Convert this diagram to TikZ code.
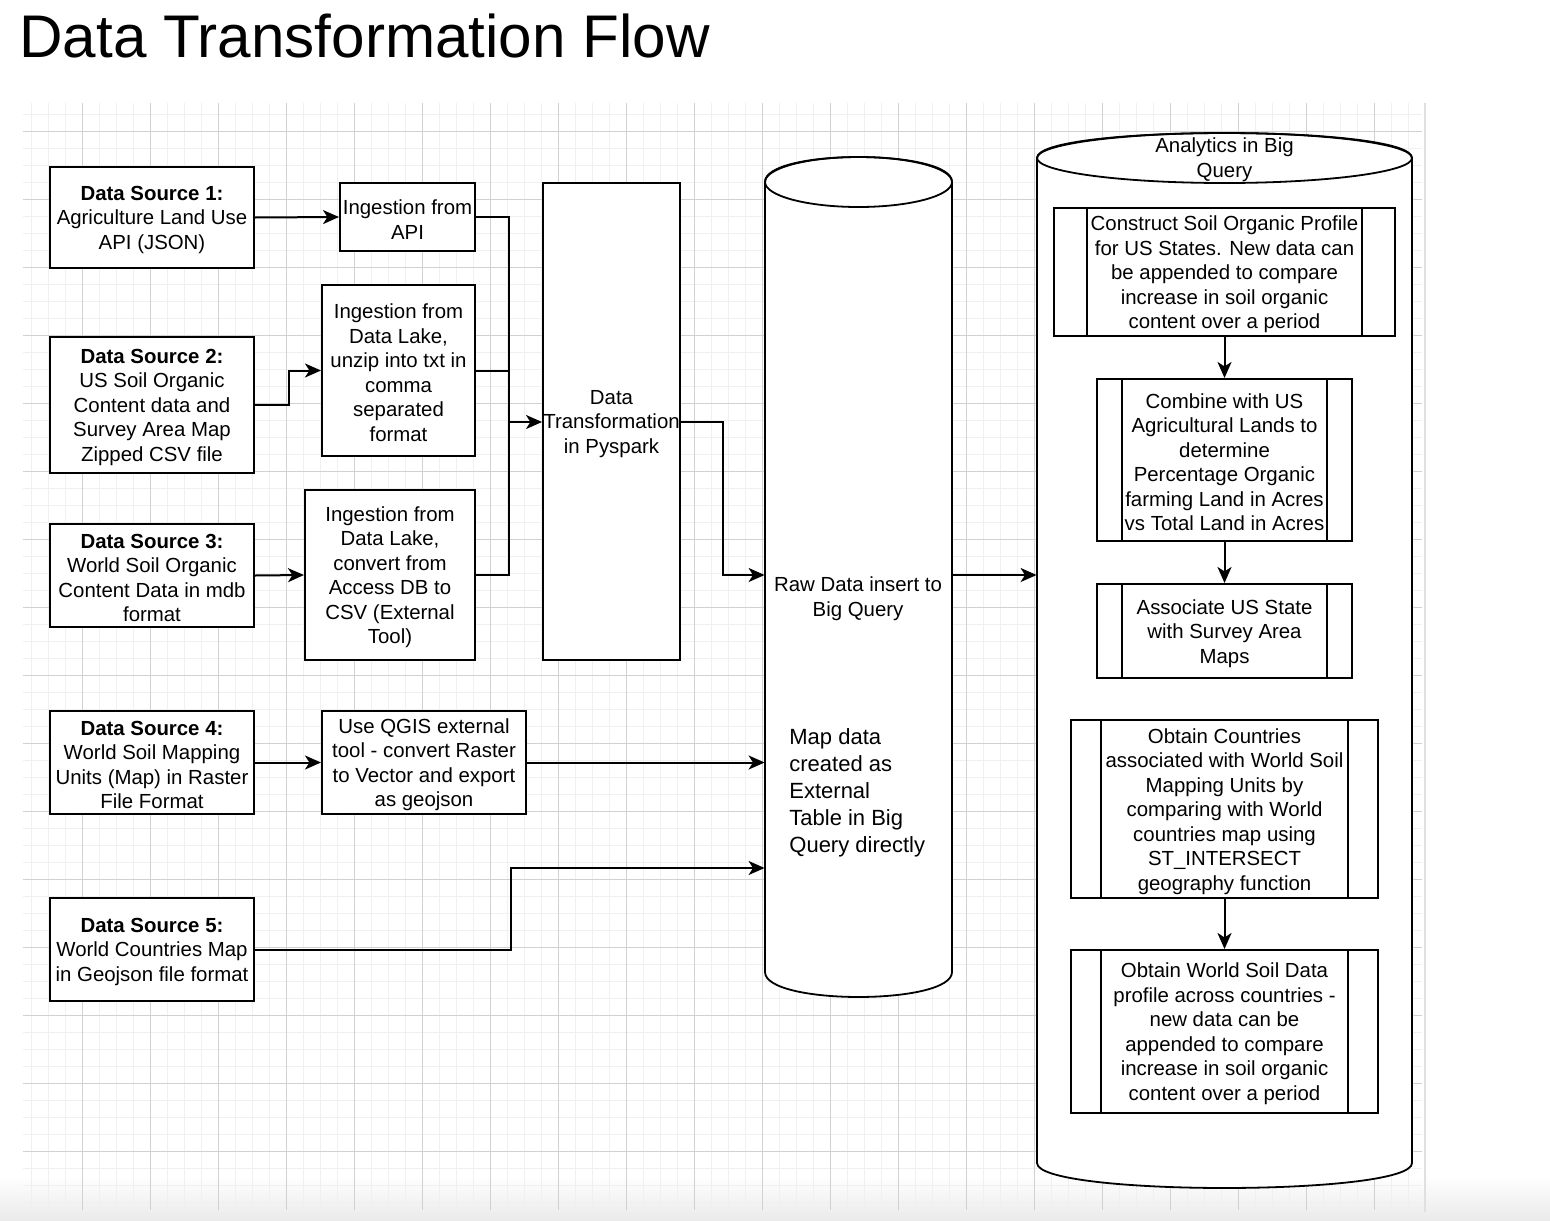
\documentclass[tikz,border=0pt]{standalone}
\usepackage{fontspec}
\setmainfont{Liberation Sans}
\usetikzlibrary{arrows.meta,calc}
\newcommand\myfs{\fontsize{10.2}{12.25}\selectfont}
% box with text shifted slightly down: name, position, width, height, text
\newcommand\bx[5]{%
  \node[box, minimum width=#3, minimum height=#4] (#1) at #2 {};
  \node[txt] (#1t) at ([yshift=-1.2pt]#1.center) {#5};}
\begin{document}
\begin{tikzpicture}[x=0.5pt,y=-0.5pt,
  box/.style={draw=black, line width=1pt, fill=white, inner sep=0pt},
  arr/.style={draw=black, line width=1pt, -{Stealth[length=8pt,width=7pt,inset=2.2pt]}},
  conn/.style={draw=black, line width=1pt},
  cyl/.style={draw=black, line width=0.9pt, fill=white},
  minorgrid/.style={draw=black!6, line width=0.5pt},
  majorgrid/.style={draw=black!18, line width=0.5pt},
  txt/.style={font=\myfs, align=center, inner sep=0pt}]

\useasboundingbox (0,0) rectangle (1550,1220);
\fill[white] (0,0) rectangle (1550,1220);
\shade[top color=white, bottom color=black!8] (0,1175) rectangle (1550,1220);

% grid
\foreach \x in {31,48,...,1422} \draw[minorgrid] (\x,103) -- (\x,1210);
\foreach \y in {114,131,...,1210} \draw[minorgrid] (23,\y) -- (1422,\y);
\foreach \x in {82,150,...,1422} \draw[majorgrid] (\x,103) -- (\x,1210);
\foreach \y in {131,199,...,1210} \draw[majorgrid] (23,\y) -- (1422,\y);
\draw[black!12, line width=1.2pt] (1425,103) -- (1425,1212);

% title
\node[anchor=base west, inner sep=0pt, font=\fontsize{30.1}{34}\selectfont] (title) at (19,58) {Data Transformation Flow};

% sources
\bx{ds1}{(152,217.5)}{102pt}{50.5pt}{\textbf{Data Source 1:}\\Agriculture Land Use\\API (JSON)}
\bx{ds2}{(152,405)}{102pt}{68pt}{\textbf{Data Source 2:}\\US Soil Organic\\Content data and\\Survey Area Map\\Zipped CSV file}
\bx{ds3}{(152,575.5)}{102pt}{51.5pt}{\textbf{Data Source 3:}\\World Soil Organic\\Content Data in mdb\\format}
\bx{ds4}{(152,762.5)}{102pt}{51.5pt}{\textbf{Data Source 4:}\\World Soil Mapping\\Units (Map) in Raster\\File Format}
\bx{ds5}{(152,949.5)}{102pt}{51.5pt}{\textbf{Data Source 5:}\\World Countries Map\\in Geojson file format}

% ingestion
\bx{api}{(407.5,217)}{67.5pt}{34pt}{Ingestion from\\API}
\bx{dl1}{(398.5,370.5)}{76.5pt}{85.5pt}{Ingestion from\\Data Lake,\\unzip into txt in\\comma\\separated\\format}
\bx{dl2}{(390,575)}{85pt}{85pt}{Ingestion from\\Data Lake,\\convert from\\Access DB to\\CSV (External\\Tool)}
\bx{qgis}{(424,762.5)}{102pt}{51.5pt}{Use QGIS external\\tool - convert Raster\\to Vector and export\\as geojson}

% transformation
\bx{dt}{(611.5,421.5)}{68.5pt}{238.5pt}{Data\\Transformation\\in Pyspark}

% cylinder 1
\path[cyl] (765,182) -- (765,972) .. controls (765,1005.3) and (952,1005.3) .. (952,972) -- (952,182) .. controls (952,148.7) and (765,148.7) .. (765,182) -- cycle;
\draw[line width=0.9pt] (858.5,182) ellipse [x radius=46.75pt, y radius=12.5pt];
\node[inner sep=0pt, minimum width=93.5pt, minimum height=395pt] (raw) at (858.5,577) {};
\node[txt] (rawtxt) at (858,598.5) {Raw Data insert to\\Big Query};
\node[font=\fontsize{11}{13.5}\selectfont, align=left, anchor=west, inner sep=0pt] (maptxt) at (789,793) {Map data\\created as\\External\\Table in Big\\Query directly};

% cylinder 2
\path[cyl] (1037,158) -- (1037,1163) .. controls (1037,1196.3) and (1412,1196.3) .. (1412,1163) -- (1412,158) .. controls (1412,124.7) and (1037,124.7) .. (1037,158) -- cycle;
\draw[line width=0.9pt] (1224.5,158) ellipse [x radius=93.75pt, y radius=12.5pt];
\node[inner sep=0pt, minimum width=187.5pt, minimum height=502.5pt] (ana) at (1224.5,660.5) {};
\node[txt] (anatxt) at (1224.5,159.5) {Analytics in Big\\Query};

% analytics steps
\bx{p1}{(1224.5,272)}{170.5pt}{64pt}{Construct Soil Organic Profile\\for US States. New data can\\be appended to compare\\increase in soil organic\\content over a period}
\bx{p2}{(1224.5,460)}{127.5pt}{81pt}{Combine with US\\Agricultural Lands to\\determine\\Percentage Organic\\farming Land in Acres\\vs Total Land in Acres}
\bx{p3}{(1224.5,631)}{127.5pt}{47pt}{Associate US State\\with Survey Area\\Maps}
\bx{p4}{(1224.5,809)}{153.5pt}{89pt}{Obtain Countries\\associated with World Soil\\Mapping Units by\\comparing with World\\countries map using\\ST\_INTERSECT\\geography function}
\bx{p5}{(1224.5,1031.5)}{153.5pt}{81.5pt}{Obtain World Soil Data\\profile across countries -\\new data can be\\appended to compare\\increase in soil organic\\content over a period}

\foreach \n/\d in {p1/17pt,p2/13pt,p3/13pt,p4/15.5pt,p5/15.5pt}{
  \draw[line width=1pt] ([xshift=\d]\n.north west) -- ([xshift=\d]\n.south west);
  \draw[line width=1pt] ([xshift=-\d]\n.north east) -- ([xshift=-\d]\n.south east);
}

% connectors
\draw[arr] (ds1.east) -- (api.west);
\coordinate (j) at (509,422);
\draw[conn] (api.east) -| (j);
\draw[conn] (dl1.east) -| (j);
\draw[conn] (dl2.east) -| (j);
\draw[arr] (j) -- (j -| dt.west);
\draw[arr] (ds2.east) -- ++(34,0) |- (dl1.west);
\draw[arr] (ds3.east) -- (dl2.west);
\draw[arr] (ds4.east) -- (qgis.west);
\draw[arr] (qgis.east) -- (qgis.east -| raw.west);
\path (raw.west) ++(0,291) coordinate (in5);
\draw[arr] (ds5.east) -- ++(256,0) |- (in5);
\draw[arr] (dt.east) -- ++(42,0) |- (raw.west |- dl2.east);
\draw[arr] (raw.east |- dl2.east) -- (ana.west |- dl2.east);
\draw[arr] (p1.south) -- (p2.north);
\draw[arr] (p2.south) -- (p3.north);
\draw[arr] (p4.south) -- (p5.north);
\end{tikzpicture}
\end{document}
